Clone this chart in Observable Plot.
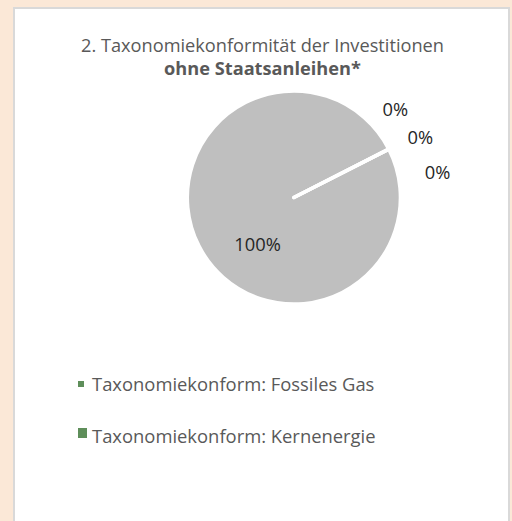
<!DOCTYPE html>
<html>
<head>
<meta charset="utf-8">
<script src="https://cdn.jsdelivr.net/npm/d3@7"></script>
<script src="https://cdn.jsdelivr.net/npm/@observablehq/plot@0.6"></script>
<style>
  html, body { margin: 0; padding: 0; }
  body { width: 512px; height: 521px; background: #fbe8d7; overflow: hidden; position: relative; font-family: "Open Sans", sans-serif; }
  #panel { position: absolute; left: 13px; top: 7px; width: 497px; height: 540px; box-sizing: border-box; background: #fff; border: 2px solid #d9d9d9; border-bottom: none; }
  .t { position: absolute; left: 0; width: 495px; text-align: center; color: #595959; font-size: 18.2px; white-space: nowrap; line-height: 22px; }
  .leg { position: absolute; color: #595959; font-size: 18.4px; white-space: nowrap; line-height: 20px; }
  .mk { position: absolute; }
</style>
</head>
<body>
<div id="panel"></div>
<script>
// ---- data ----
const titleLine1 = "2. Taxonomiekonformität der Investitionen";
const titleLine2 = "ohne Staatsanleihen*";
const categories = [
  "Taxonomiekonform: Fossiles Gas",
  "Taxonomiekonform: Kernenergie",
  "Taxonomiekonform (ohne fossiles Gas und Kernenergie)",
  "Nicht taxonomiekonform"
];
const values = [0, 0, 0, 100];
const sliceColors = ["#5e8e5a", "#5e8e5a", "#a9c79c", "#bfbfbf"];
const legendLabels = ["Taxonomiekonform: Fossiles Gas", "Taxonomiekonform: Kernenergie"];
const legendColors = ["#5e8e5a", "#5e8e5a"];

// ---- layout ----
const panel = document.getElementById("panel");
[titleLine1, titleLine2].forEach((txt, i) => {
  const d = document.createElement("div");
  d.className = "t";
  d.textContent = txt;
  d.style.top = (i === 0 ? 25 : 48) + "px";
  if (i === 1) d.style.fontWeight = "bold";
  panel.appendChild(d);
});

const deg = Math.PI / 180;
const startAngle = 63 * deg;
const arcs = d3.pie().sort(null).value(d => d).startAngle(startAngle).endAngle(startAngle + 2 * Math.PI)(values);

const slices = arcs.map((a, i) => ({category: categories[i], value: values[i], color: sliceColors[i], a0: a.startAngle, a1: a.endAngle}));

// label positions derived from slice angles
let zi = 0;
const labels = slices.map(s => {
  const mid = (s.a0 + s.a1) / 2;
  let ang, r;
  if (s.value === 0) {
    const k = zi++;
    ang = mid + ((k - 1) * 15.5 + 1.5) * deg;
    r = 1.31 + (k - 1) * 0.055;
  } else {
    ang = mid - 25 * deg;
    r = 0.56;
  }
  return {text: s.value + "%", x: r * Math.sin(ang), y: r * Math.cos(ang)};
});

const W = 495, H = 250, cx = 280, cy = 118, R = 107;

function pieMark(index, scales) {
  const x0 = scales.x(0), y0 = scales.y(0);
  const rad = scales.x(1) - scales.x(0);
  const arc = d3.arc().innerRadius(0).outerRadius(rad);
  const g = d3.create("svg:g").attr("transform", `translate(${x0},${y0})`);
  const order = slices.map((s, i) => i).sort((a, b) => (slices[b].value - slices[a].value));
  for (const i of order) {
    const s = slices[i];
    g.append("path")
      .attr("d", arc({startAngle: s.a0, endAngle: s.a1}))
      .attr("fill", s.color)
      .attr("stroke", "#fff")
      .attr("stroke-width", 3.5)
      .attr("stroke-linejoin", "round");
  }
  return g.node();
}

const chart = Plot.plot({
  width: W,
  height: H,
  margin: 0,
  x: {domain: [-1, 1], range: [cx - R, cx + R], axis: null},
  y: {domain: [-1, 1], range: [cy + R, cy - R], axis: null},
  style: {fontFamily: "'Open Sans', sans-serif", background: "transparent", overflow: "visible"},
  marks: [
    pieMark,
    Plot.text(labels, {x: "x", y: "y", text: "text", fontSize: 18.4, fill: "#262626", textAnchor: "middle", lineAnchor: "middle"})
  ]
});
chart.style.position = "absolute";
chart.style.left = "0px";
chart.style.top = "71px";
panel.appendChild(chart);

// legend
const legTop = [365, 417];
const mkBox = [[63, 372, 6, 6], [63, 419, 9, 10]];
legendLabels.forEach((lab, i) => {
  const m = document.createElement("div");
  m.className = "mk";
  m.style.left = mkBox[i][0] + "px";
  m.style.top = mkBox[i][1] + "px";
  m.style.width = mkBox[i][2] + "px";
  m.style.height = mkBox[i][3] + "px";
  m.style.background = legendColors[i];
  panel.appendChild(m);
  const t = document.createElement("div");
  t.className = "leg";
  t.textContent = lab;
  t.style.left = "77px";
  t.style.top = legTop[i] + "px";
  panel.appendChild(t);
});
</script>
</body>
</html>
